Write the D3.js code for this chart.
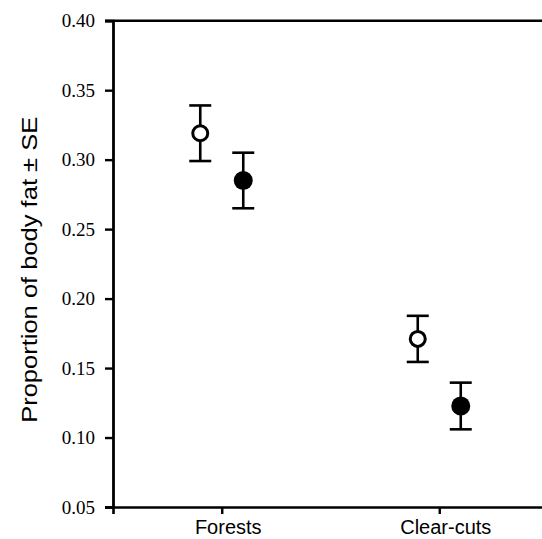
<!DOCTYPE html>
<html>
<head>
<meta charset="utf-8">
<script src="https://cdn.jsdelivr.net/npm/d3@7"></script>
<style>
  body { margin: 0; background: #fff; }
  svg { display: block; }
</style>
</head>
<body>
<script>
const width = 542;
const height = 539;

const margin = {
  top: 20.7,
  left: 113,
  bottom: 32,
  right: -6
};

// data
const categories = ["Forests", "Clear-cuts"];
const groups = ["open", "filled"];
const openMeans = [0.319, 0.171];
const openSE = [0.020, 0.0166];
const filledMeans = [0.285, 0.1227];
const filledSE = [0.020, 0.0168];
const yTicks = [0.05, 0.10, 0.15, 0.20, 0.25, 0.30, 0.35, 0.40];

const rows = [];
categories.forEach((c, i) => {
  rows.push({ cat: c, group: "open", mean: openMeans[i], se: openSE[i] });
  rows.push({ cat: c, group: "filled", mean: filledMeans[i], se: filledSE[i] });
});

const svg = d3.select("body").append("svg")
  .attr("width", width)
  .attr("height", height);

const x = d3.scalePoint()
  .domain(categories)
  .range([margin.left, width - margin.right])
  .padding(0.5);

const dx = d3.scalePoint()
  .domain(groups)
  .range([-21.5, 21.5]);

const y = d3.scaleLinear()
  .domain([0.05, 0.40])
  .range([height - margin.bottom, margin.top]);

// left axis
const yAxis = svg.append("g")
  .attr("transform", `translate(${margin.left},0)`)
  .call(d3.axisLeft(y).tickValues(yTicks).tickFormat(d3.format(".2f")).tickSizeOuter(0).tickSize(8).tickPadding(10));
yAxis.select(".domain").attr("stroke-width", 2.8);
yAxis.selectAll(".tick line").attr("stroke-width", 2.4);
yAxis.selectAll(".tick text")
  .style("font-family", "'Liberation Serif', 'Times New Roman', serif")
  .style("font-size", "19px")
  .attr("fill", "#000");

// bottom axis
const xAxis = svg.append("g")
  .attr("transform", `translate(0,${height - margin.bottom})`)
  .call(d3.axisBottom(x).tickSizeOuter(0).tickSize(7).tickPadding(6));
xAxis.select(".domain").attr("stroke-width", 2.6);
xAxis.selectAll(".tick line").attr("stroke-width", 2.4);
xAxis.selectAll(".tick text")
  .style("font-family", "'Liberation Sans', Arial, sans-serif")
  .style("font-size", "20px")
  .attr("dx", 6)
  .attr("fill", "#000");

// top frame line
svg.append("line")
  .attr("x1", margin.left - 8)
  .attr("x2", width)
  .attr("y1", y(0.40))
  .attr("y2", y(0.40))
  .attr("stroke", "#000")
  .attr("stroke-width", 2.6);

// y title
svg.append("text")
  .attr("transform", `translate(37,${y(0.225) + 6}) rotate(-90)`)
  .attr("text-anchor", "middle")
  .attr("font-family", "'Liberation Sans', Arial, sans-serif")
  .attr("font-size", 22)
  .attr("textLength", 306)
  .attr("lengthAdjust", "spacingAndGlyphs")
  .text("Proportion of body fat ± SE");

const pts = svg.append("g");

const px = (d) => x(d.cat) + dx(d.group);

// error bars
pts.selectAll("line.err")
  .data(rows)
  .enter()
  .append("line")
  .attr("class", "err")
  .attr("x1", px)
  .attr("x2", px)
  .attr("y1", (d) => y(d.mean + d.se))
  .attr("y2", (d) => y(d.mean - d.se))
  .attr("stroke", "#000")
  .attr("stroke-width", 2.6);

rows.forEach((d) => {
  [d.mean + d.se, d.mean - d.se].forEach((v) => {
    pts.append("line")
      .attr("x1", px(d) - 11)
      .attr("x2", px(d) + 11)
      .attr("y1", y(v))
      .attr("y2", y(v))
      .attr("stroke", "#000")
      .attr("stroke-width", 2.6);
  });
});

// points
pts.selectAll("circle")
  .data(rows)
  .enter()
  .append("circle")
  .attr("cx", px)
  .attr("cy", (d) => y(d.mean))
  .attr("r", (d) => d.group === "open" ? 7.5 : 9.5)
  .attr("fill", (d) => d.group === "open" ? "#fff" : "#000")
  .attr("stroke", "#000")
  .attr("stroke-width", (d) => d.group === "open" ? 3 : 0);
</script>
</body>
</html>
